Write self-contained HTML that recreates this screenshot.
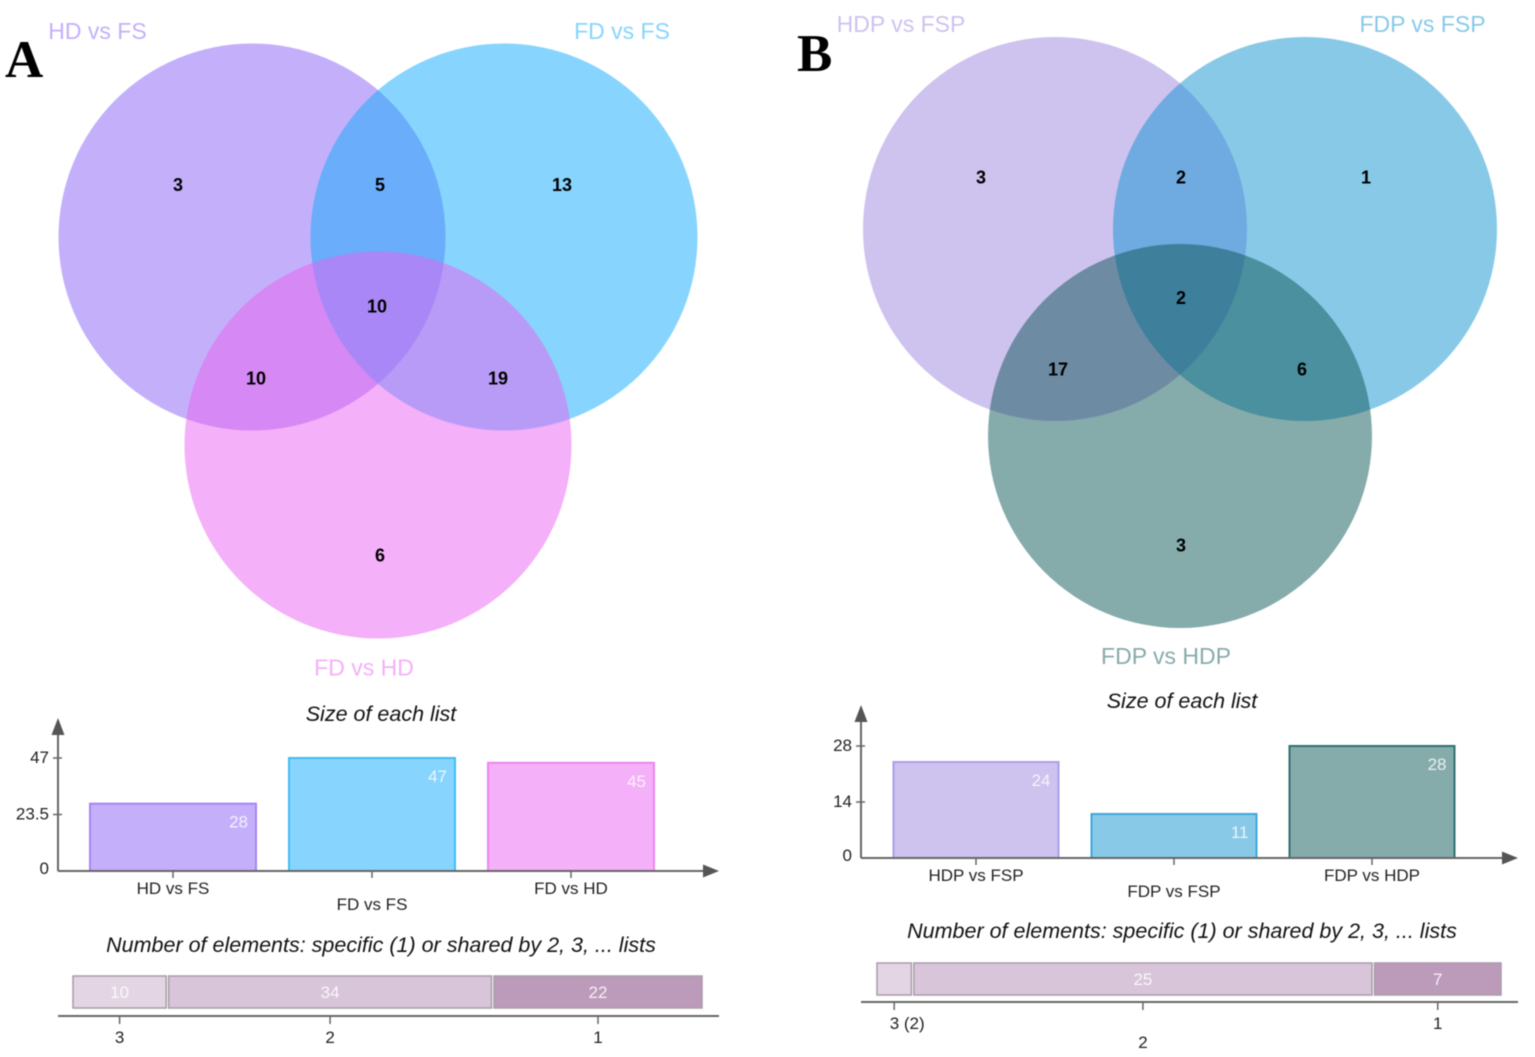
<!DOCTYPE html>
<html lang="en">
<head>
<meta charset="utf-8">
<title>Venn diagrams A and B</title>
<style>
html,body{margin:0;padding:0;background:#fff;width:1535px;height:1057px;overflow:hidden}
svg{display:block;font-family:"Liberation Sans",sans-serif;filter:blur(.5px)}
.count{font-size:18px;font-weight:700;fill:#000;text-anchor:middle}
.vlabel{font-size:23px;text-anchor:middle}
.letter{font-family:"Liberation Serif",serif;font-weight:700;font-size:53px;fill:#000}
</style>
</head>
<body>
<svg id="figure" xmlns="http://www.w3.org/2000/svg" width="1535" height="1057" viewBox="0 0 1535 1057">
  <g>
    <circle cx="252" cy="237" r="193.5" fill="#8961f5" fill-opacity=".5"/>
    <circle cx="504" cy="237" r="193.5" fill="#0fabfd" fill-opacity=".5"/>
    <circle cx="378" cy="445" r="193.5" fill="#e961f1" fill-opacity=".5"/>
    <text class="vlabel" x="97.5" y="39" fill="#c4b0fa">HD vs FS</text>
    <text class="vlabel" x="622" y="39" fill="#87d5fe">FD vs FS</text>
    <text class="vlabel" x="364" y="675.500" fill="#f4b0f8">FD vs HD</text>
    <text class="count" x="178" y="191">3</text>
    <text class="count" x="380" y="191">5</text>
    <text class="count" x="562" y="191">13</text>
    <text class="count" x="377" y="312.500">10</text>
    <text class="count" x="256" y="384.500">10</text>
    <text class="count" x="498" y="384.500">19</text>
    <text class="count" x="380" y="561.500">6</text>
  </g>
  <g>
    <circle cx="1055" cy="229" r="192" fill="#9d85df" fill-opacity=".5"/>
    <circle cx="1305" cy="229" r="192" fill="#1193d1" fill-opacity=".5"/>
    <circle cx="1180" cy="436" r="192" fill="#0d5757" fill-opacity=".5"/>
    <text class="vlabel" x="901" y="32" fill="#cec2ef">HDP vs FSP</text>
    <text class="vlabel" x="1422.5" y="32" fill="#88c9e8">FDP vs FSP</text>
    <text class="vlabel" x="1166" y="664" fill="#86abab">FDP vs HDP</text>
    <text class="count" x="981" y="183.500">3</text>
    <text class="count" x="1181" y="183.500">2</text>
    <text class="count" x="1366" y="183.500">1</text>
    <text class="count" x="1181" y="304">2</text>
    <text class="count" x="1058" y="375.500">17</text>
    <text class="count" x="1302" y="375.500">6</text>
    <text class="count" x="1181" y="551.500">3</text>
  </g>
  <text class="letter" x="5" y="77">A</text>
  <text class="letter" x="797" y="71">B</text>
  <g id="charts"></g>
</svg>
<script>
// Panel A data
const categoriesA = ["HD vs FS", "FD vs FS", "FD vs HD"];
const sizesA = [28, 47, 45];
const yTicksA = [47, 23.5, 0];
const sharedLevelsA = ["3", "2", "1"];
const sharedCountsA = [10, 34, 22];
const sharedPrintedA = ["10", "34", "22"];

// Panel B data
const categoriesB = ["HDP vs FSP", "FDP vs FSP", "FDP vs HDP"];
const sizesB = [24, 11, 28];
const yTicksB = [28, 14, 0];
const sharedLevelsB = ["3 (2)", "2", "1"];
const sharedCountsB = [2, 25, 7];
const sharedPrintedB = ["", "25", "7"];

const NS = "http://www.w3.org/2000/svg";
const root = document.getElementById("charts");

function make(tag, attrs, parent, text) {
  const el = document.createElementNS(NS, tag);
  Object.keys(attrs).forEach(function (k) { el.setAttribute(k, attrs[k]); });
  if (text !== undefined) el.textContent = text;
  parent.appendChild(el);
  return el;
}

function drawPanel(p) {
  const g = make("g", {}, root);
  
  

  const title1 = make("text", { x: p.titleX, y: p.baseY - 150, "font-size": 21.5, "font-style": "italic", "text-anchor": "middle", fill: "#111" }, g, "Size of each list");
  
  

  const yScale = function (v) { return p.baseY - v * p.pxPerUnit; };
  const xBand = function (i) { return p.barStart + i * p.barStep; };

  p.categories.forEach(function (name, i) {
    const top = yScale(p.sizes[i]);
    const bar = make("rect", { x: xBand(i), y: top, width: p.barW, height: p.baseY - top, fill: p.fills[i], stroke: p.strokes[i], "stroke-width": 2 }, g);
    
    
    const value = make("text", { x: xBand(i) + p.barW - 8, y: top + 24, "font-size": 17, "text-anchor": "end", fill: "#fff", "fill-opacity": ".82" }, g, String(p.sizes[i]));
    
    
    const cx = xBand(i) + p.barW / 2;
    const tick = make("line", { x1: cx, x2: cx, y1: p.baseY, y2: p.baseY + 7, stroke: "#666", "stroke-width": 1.5 }, g);
    
    
    const label = make("text", { x: cx, y: p.baseY + (i === 1 ? 39 : 23), "font-size": 17, "text-anchor": "middle", fill: "#222" }, g, name);
    
    
  });

  const yAxis = make("line", { x1: p.axisX, x2: p.axisX, y1: p.baseY, y2: p.baseY - 140, stroke: "#666", "stroke-width": 2 }, g);
  
  
  const yHead = make("polygon", { points: (p.axisX - 6.5) + "," + (p.baseY - 136) + " " + (p.axisX + 6.5) + "," + (p.baseY - 136) + " " + p.axisX + "," + (p.baseY - 153), fill: "#555" }, g);
  
  
  const xAxis = make("line", { x1: p.axisX, x2: p.axisEnd - 12, y1: p.baseY, y2: p.baseY, stroke: "#666", "stroke-width": 2 }, g);
  
  
  const xHead = make("polygon", { points: (p.axisEnd - 16) + "," + (p.baseY - 6.500) + " " + (p.axisEnd - 16) + "," + (p.baseY + 6.500) + " " + p.axisEnd + "," + p.baseY, fill: "#555" }, g);
  
  

  p.yTicks.forEach(function (v) {
    const y = yScale(v);
    if (v !== 0) {
      const tick = make("line", { x1: p.axisX - 5, x2: p.axisX + 4, y1: y, y2: y, stroke: "#666", "stroke-width": 1.5 }, g);
      
      
    }
    const label = make("text", { x: p.axisX - 9, y: y + (v === 0 ? 3 : 5), "font-size": 17, "text-anchor": "end", fill: "#222" }, g, String(v));
    
    
  });

  const title2 = make("text", { x: p.titleX, y: p.baseY + 81 - p.shift, "font-size": 21.5, "font-style": "italic", "text-anchor": "middle", fill: "#111" }, g, "Number of elements: specific (1) or shared by 2, 3, ... lists");
  
  

  const total = p.shared.reduce(function (a, b) { return a + b; }, 0);
  const xStack = function (v) { return p.stackStart + v * (p.stackSpan / total); };
  let cum = 0;
  p.shared.forEach(function (v, i) {
    const x0 = xStack(cum), x1 = xStack(cum + v) - 2.5;
    const seg = make("rect", { x: x0, y: p.stackY, width: x1 - x0, height: 32, fill: p.stackFills[i], stroke: "#a89ca8", "stroke-width": 1.5 }, g);
    
    
    const cx = (x0 + x1) / 2;
    if (p.printed[i] !== "") {
      const val = make("text", { x: cx, y: p.stackY + 22, "font-size": 17, "text-anchor": "middle", fill: "#fff", "fill-opacity": ".85" }, g, p.printed[i]);
      
      
    }
    const tick = make("line", { x1: cx, x2: cx, y1: p.stackAxisY, y2: p.stackAxisY + 8, stroke: "#666", "stroke-width": 1.5 }, g);
    
    
    const lbl = make("text", { x: cx + (i === 0 ? p.firstDx : 0), y: p.stackAxisY + 27 + (i === 1 ? p.midDrop : 0), "font-size": 17, "text-anchor": "middle", fill: "#222" }, g, p.levels[i]);
    
    
    cum += v;
  });
  const sAxis = make("line", { x1: p.axisX, x2: p.axisEnd, y1: p.stackAxisY, y2: p.stackAxisY, stroke: "#666", "stroke-width": 2 }, g);
  
  
}

const stackPalette = ["#e3d5e4", "#d8c5d9", "#bc9aba"];

drawPanel({
  id: "panel-a", categories: categoriesA, sizes: sizesA, yTicks: yTicksA,
  shared: sharedCountsA, levels: sharedLevelsA, printed: sharedPrintedA,
  baseY: 871, axisX: 58, axisEnd: 719, pxPerUnit: 113 / 47,
  barStart: 90, barStep: 199, barW: 166, titleX: 381, shift: 0,
  fills: ["#c4b0fa", "#87d5fe", "#f4b0f8"], strokes: ["#a585f5", "#3fbdf5", "#ee85f2"],
  stackStart: 73, stackSpan: 631.5, stackY: 976, stackAxisY: 1016, stackFills: stackPalette,
  firstDx: 0, midDrop: 0
});
drawPanel({
  id: "panel-b", categories: categoriesB, sizes: sizesB, yTicks: yTicksB,
  shared: sharedCountsB, levels: sharedLevelsB, printed: sharedPrintedB,
  baseY: 858, axisX: 861, axisEnd: 1518, pxPerUnit: 4,
  barStart: 893.5, barStep: 198, barW: 165, titleX: 1182, shift: 1,
  fills: ["#cec2ef", "#88c9e8", "#86abab"], strokes: ["#ae9ee6", "#3fa6dc", "#2f7272"],
  stackStart: 877, stackSpan: 626.5, stackY: 963, stackAxisY: 1002, stackFills: stackPalette,
  firstDx: 13, midDrop: 19
});
</script>
</body>
</html>
